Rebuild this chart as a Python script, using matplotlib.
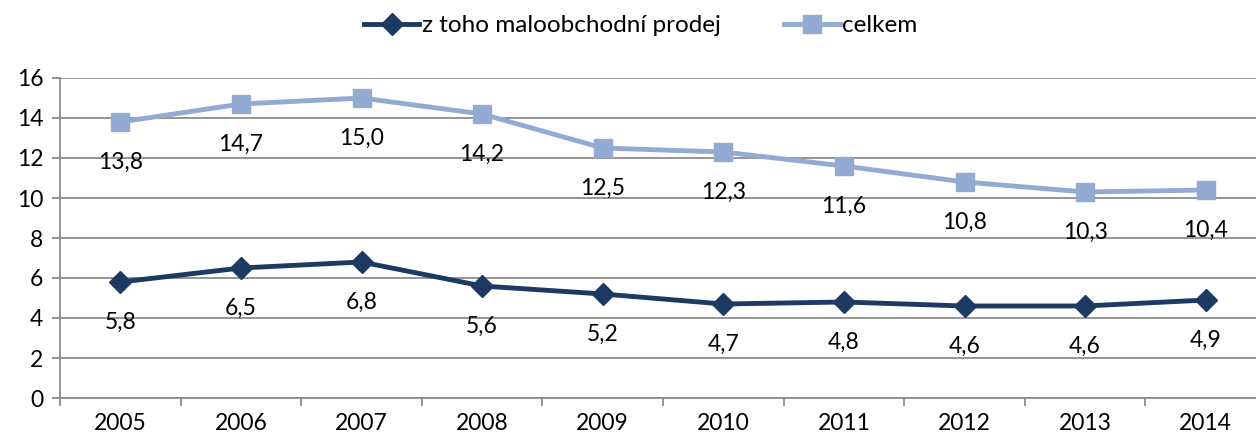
import matplotlib.pyplot as plt

years = ['2005', '2006', '2007', '2008', '2009', '2010', '2011', '2012', '2013', '2014']
retail = [5.8, 6.5, 6.8, 5.6, 5.2, 4.7, 4.8, 4.6, 4.6, 4.9]
total = [13.8, 14.7, 15.0, 14.2, 12.5, 12.3, 11.6, 10.8, 10.3, 10.4]

dark = '#1C3A64'
light = '#93AAD3'
grid = '#8C8C8C'

plt.rcParams['font.family'] = ['Lato', 'DejaVu Sans']

fig = plt.figure(figsize=(12.56, 4.44), dpi=100)
# plot area runs slightly past the right edge, as in the reference
ax = fig.add_axes([60 / 1256, 46 / 444, 1206 / 1256, 320 / 444])

x = list(range(len(years)))
ax.plot(x, retail, color=dark, lw=3.5, marker='D', ms=11, label='z toho maloobchodní prodej', zorder=3)
ax.plot(x, total, color=light, lw=3.5, marker='s', ms=13.5, label='celkem', zorder=3)

for series in (retail, total):
    for xi, v in zip(x, series):
        ax.annotate(f'{v:.1f}'.replace('.', ','), (xi, v), xytext=(0, -29), textcoords='offset points',
                    ha='center', va='center', fontsize=16.5, color='black')

ax.set_xlim(-0.5, len(years) - 0.5)
ax.set_ylim(0, 16)
ax.set_yticks(range(0, 17, 2))
ax.set_xticks(x)
ax.set_xticklabels(years)
ax.set_xticks([i - 0.5 for i in range(len(years) + 1)], minor=True)

ax.grid(axis='y', color=grid, lw=1.3)
ax.set_axisbelow(True)
for s in ['top', 'right']:
    ax.spines[s].set_visible(False)
ax.spines['left'].set_color(grid)
ax.spines['bottom'].set_color(grid)
ax.spines['left'].set_linewidth(1.3)
ax.spines['bottom'].set_linewidth(1.3)

ax.tick_params(axis='y', length=6, color=grid, width=1.3, labelsize=16.5, pad=6)
ax.tick_params(axis='x', which='major', length=0, labelsize=16.5, pad=11)
ax.tick_params(axis='x', which='minor', length=6, color=grid, width=1.3)

fig.legend(loc='upper center', bbox_to_anchor=(0.51, 1.015), ncol=2, frameon=False,
           fontsize=17.5, handlelength=2.3, columnspacing=2.6, handletextpad=0.1)

fig.savefig('out.png', dpi=100)
